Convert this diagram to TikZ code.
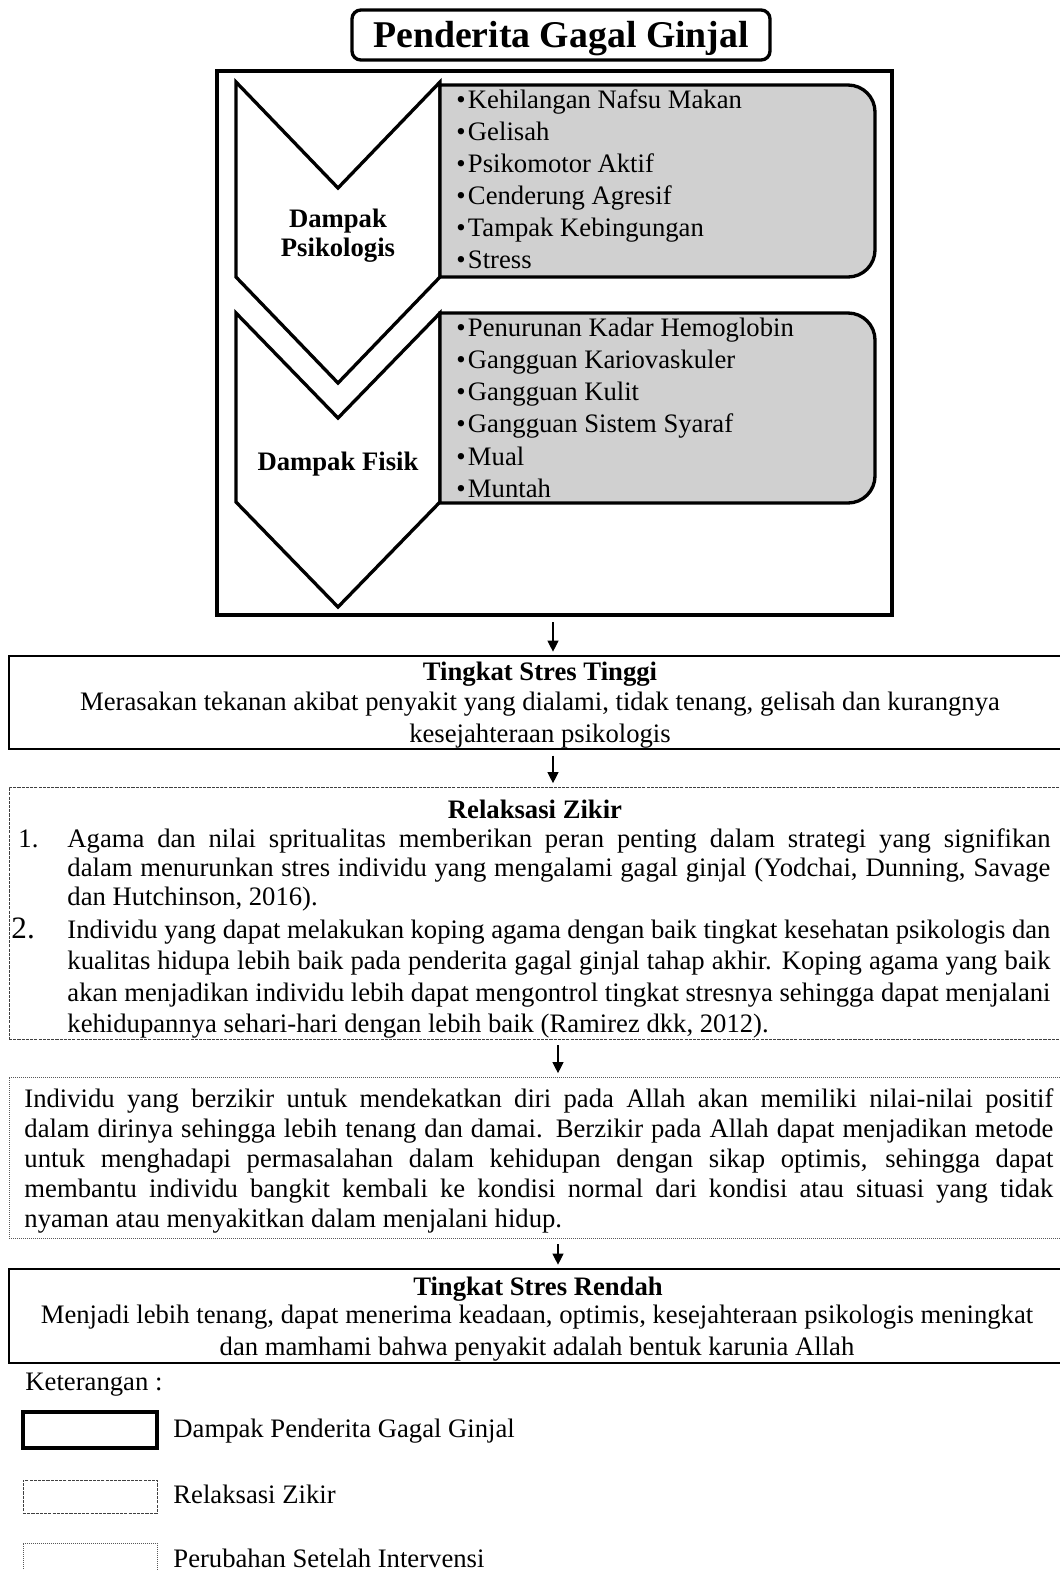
\documentclass[tikz,border=0pt]{standalone}
\usepackage{fontspec}
\setmainfont{Liberation Serif}
\usetikzlibrary{arrows.meta,fit}
\definecolor{boxgrey}{RGB}{208,208,208}
\tikzset{
  every node/.style={inner sep=0pt, font=\fontsize{12}{14}\selectfont},
  heavybox/.style={draw, line width=1.5pt, inner sep=0pt},
  plainbox/.style={draw, line width=0.9pt, inner sep=0pt},
  zikirbox/.style={draw=black!75, line width=0.45pt, dash pattern=on 1.4pt off 0.5pt, inner sep=0pt},
  afterbox/.style={draw=black!65, line width=0.45pt, dash pattern=on 0.45pt off 0.45pt, inner sep=0pt},
  chevronpath/.style={draw, fill=white, line width=1.5pt, line join=miter},
  greybox/.style={draw, fill=boxgrey, line width=1.5pt},
  bulletitem/.style={anchor=base west},
  headtext/.style={anchor=base, font=\bfseries\fontsize{12}{14}\selectfont},
  arr/.style={-{Triangle[length=5pt,width=5pt]}, line width=0.5pt, shorten <=2.5pt, shorten >=1.5pt},
}
\begin{document}
\begin{tikzpicture}[x=0.45pt, y=-0.45pt]
\useasboundingbox (0,0) rectangle (1060,1570);
\clip (0,0) rectangle (1060,1570);

\node[heavybox, rounded corners=4pt, fit={(352,10) (770,60)}] (titlebox) {};
\node[anchor=base, font=\bfseries\fontsize{17}{20}\selectfont] (title) at (561,47) {Penderita Gagal Ginjal};

\node[heavybox, line width=1.6pt, fit={(217,71) (892,615)}] (frame) {};

\draw[chevronpath] (236,82) -- (338,188) -- (440,82) -- (440,277) -- (338,383) -- (236,277) -- cycle;
\draw[chevronpath] (236,313) -- (338,418) -- (440,313) -- (440,502) -- (338,607) -- (236,502) -- cycle;
\node[align=center, font=\bfseries\fontsize{12}{13}\selectfont, anchor=base] (psilabel) at (338,256) {Dampak\\Psikologis};
\node[headtext] (fisiklabel) at (338,470) {Dampak Fisik};

\draw[greybox] (440,85) -- (848,85) arc[start angle=-90, end angle=0, radius=27] -- (875,250) arc[start angle=0, end angle=90, radius=27] -- (440,277) -- cycle;
\draw[greybox] (440,313) -- (848,313) arc[start angle=-90, end angle=0, radius=27] -- (875,476) arc[start angle=0, end angle=90, radius=27] -- (440,503) -- cycle;

\foreach \txt [count=\i] in {Kehilangan Nafsu Makan, Gelisah, Psikomotor Aktif, Cenderung Agresif, Tampak Kebingungan, Stress}
  \node[bulletitem] (psi\i) at (456,76+32*\i) {\textbullet\kern1pt\txt};
\foreach \txt [count=\i] in {Penurunan Kadar Hemoglobin, Gangguan Kariovaskuler, Gangguan Kulit, Gangguan Sistem Syaraf, Mual, Muntah}
  \node[bulletitem] (fis\i) at (456,304+32.2*\i) {\textbullet\kern1pt\txt};

\node[plainbox, fit={(9,656) (1071,749)}] (tinggi) {};
\node[headtext] (tinggihead) at (540,680) {Tingkat Stres Tinggi};
\node[anchor=base, align=center] (tinggitext) at (540,742) {Merasakan tekanan akibat penyakit yang dialami, tidak tenang, gelisah dan kurangnya\\kesejahteraan psikologis};

\node[zikirbox, fit={(9,787) (1071,1039)}] (zikir) {};
\node[headtext] (zikirhead) at (535,818) {Relaksasi Zikir};
\node[anchor=base west] (num1) at (18,847) {1.};
\node[anchor=base west, text width=442.35pt, align=justify, font=\fontsize{12}{13.1}\selectfont] (item1) at (67,847) {Agama dan nilai spritualitas memberikan peran penting dalam strategi yang signifikan\linebreak dalam menurunkan stres individu yang mengalami gagal ginjal (Yodchai, Dunning, Savage\linebreak dan Hutchinson, 2016).};
\node[anchor=base west, font=\fontsize{14}{16}\selectfont] (num2) at (11,938) {2.};
\node[anchor=base west, text width=442.35pt, align=justify, font=\fontsize{12}{14.2}\selectfont] (item2) at (67,938) {Individu yang dapat melakukan koping agama dengan baik tingkat kesehatan psikologis dan\linebreak kualitas hidupa lebih baik pada penderita gagal ginjal tahap akhir. Koping agama yang baik\linebreak akan menjadikan individu lebih dapat mengontrol tingkat stresnya sehingga dapat menjalani\linebreak kehidupannya sehari-hari dengan lebih baik (Ramirez dkk, 2012).};

\node[afterbox, fit={(9,1077) (1071,1238)}] (efek) {};
\node[anchor=base west, text width=463pt, align=justify, font=\fontsize{12}{13.5}\selectfont] (efektext) at (24,1107) {Individu yang berzikir untuk mendekatkan diri pada Allah akan memiliki nilai-nilai positif\linebreak dalam dirinya sehingga lebih tenang dan damai. Berzikir pada Allah dapat menjadikan metode\linebreak untuk menghadapi permasalahan dalam kehidupan dengan sikap optimis, sehingga dapat\linebreak membantu individu bangkit kembali ke kondisi normal dari kondisi atau situasi yang tidak\linebreak nyaman atau menyakitkan dalam menjalani hidup.};

\node[plainbox, fit={(9,1269) (1071,1363)}] (rendah) {};
\node[headtext] (rendahhead) at (538,1295) {Tingkat Stres Rendah};
\node[anchor=base, align=center] (rendahtext) at (537,1355) {Menjadi lebih tenang, dapat menerima keadaan, optimis, kesejahteraan psikologis meningkat\\dan mamhami bahwa penyakit adalah bentuk karunia Allah};

\coordinate (axisA) at (553,0);
\coordinate (axisB) at (558,0);
\draw[arr] (axisA |- frame.south) -- (axisA |- tinggi.north);
\draw[arr] (axisA |- tinggi.south) -- (axisA |- zikir.north);
\draw[arr] (axisB |- zikir.south) -- (axisB |- efek.north);
\draw[arr] (axisB |- efek.south) -- (axisB |- rendah.north);

\node[anchor=base west] (ket) at (25,1390) {Keterangan :};
\node[heavybox, fit={(23,1412) (157,1448)}] (lgA) {};
\node[zikirbox, fit={(23,1480) (157,1513)}] (lgB) {};
\node[afterbox, fit={(23,1543) (157,1590)}] (lgC) {};
\node[anchor=base west] (lgAtext) at (173,1437) {Dampak Penderita Gagal Ginjal};
\node[anchor=base west] (lgBtext) at (173,1503) {Relaksasi Zikir};
\node[anchor=base west] (lgCtext) at (173,1567) {Perubahan Setelah Intervensi};
\end{tikzpicture}
\end{document}
